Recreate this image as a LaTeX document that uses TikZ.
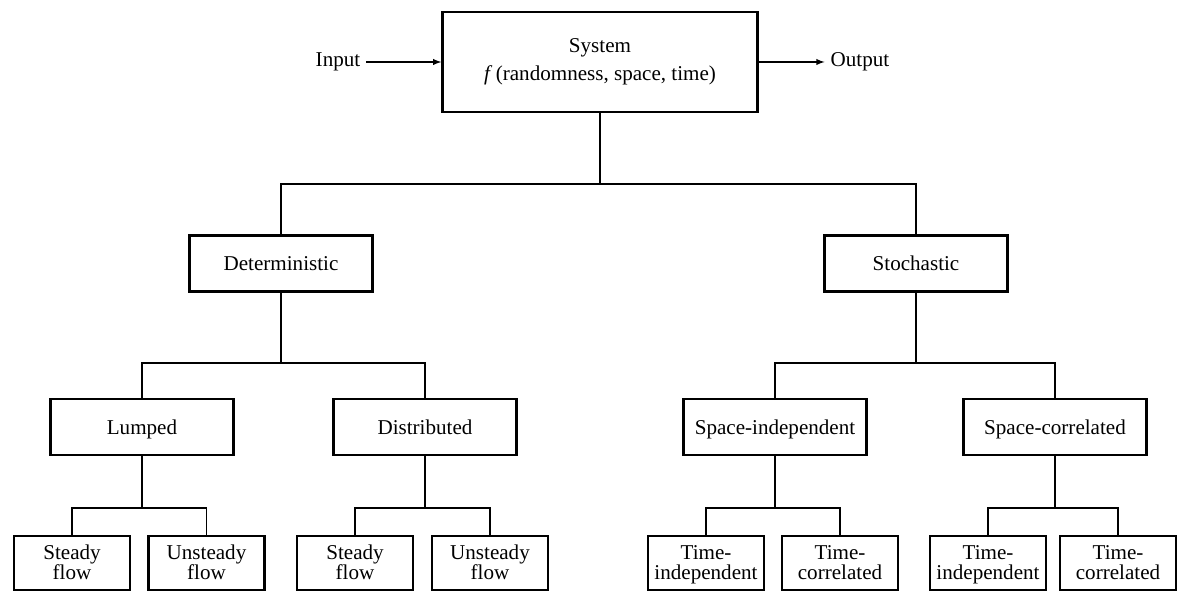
\documentclass[tikz,border=0pt]{standalone}
\usepackage{fontspec}
\setmainfont{Liberation Serif}
\begin{document}
\begin{tikzpicture}[font=\fontsize{12}{14}\selectfont,
  sysbox/.style={draw,line width=1.4pt,minimum width=6.3cm,minimum height=2cm,align=center,font=\fontsize{12}{16}\selectfont},
  box/.style={draw,line width=1.4pt,minimum width=3.66cm,minimum height=1.12cm,text height=9pt,text depth=1pt},
  leaf/.style={draw,line width=1.4pt,minimum width=2.32cm,minimum height=1.08cm,inner sep=1pt,align=center,text height=0.72cm,text depth=0.04cm,font=\fontsize{12}{11.5}\selectfont},
  link/.style={line width=0.6pt}]
\useasboundingbox (0,0) rectangle (23.58,11.84);
%\draw[step=0.5cm,gray,very thin] (0,0) grid (23.5,11.5); %background grid
\node[sysbox] (sys) at (12,10.6) {System\\\textit{f}\,(randomness, space, time)};
\node[] (in) at (6.76,10.6) {Input};
\node[] (out) at (17.2,10.6) {Output};
\draw[link,-latex] (in) -- (sys);
\draw[link,-latex] (sys) -- (out);
% level 1
\node[box] (det) at (5.62,6.57) {Deterministic};
\node[box] (sto) at (18.32,6.57) {Stochastic};
\coordinate (b1) at (12,8.16);
\draw[link] (sys.south) -- (b1);
\draw[link] (det.north) |- (b1) -| (sto.north);
% level 2
\node[box] (lum) at (2.84,3.3) {Lumped};
\node[box] (dis) at (8.5,3.3) {Distributed};
\node[box] (spi) at (15.5,3.3) {Space-independent};
\node[box] (spc) at (21.1,3.3) {Space-correlated};
\coordinate (b2) at (5.62,4.58);
\coordinate (b3) at (18.32,4.58);
\draw[link] (det.south) -- (b2);
\draw[link] (lum.north) |- (b2) -| (dis.north);
\draw[link] (sto.south) -- (b3);
\draw[link] (spi.north) |- (b3) -| (spc.north);
% level 3
\node[leaf] (st1) at (1.44,0.58) {Steady\\flow};
\node[leaf] (un1) at (4.13,0.58) {Unsteady\\flow};
\node[leaf] (st2) at (7.1,0.58) {Steady\\flow};
\node[leaf] (un2) at (9.8,0.58) {Unsteady\\flow};
\node[leaf] (ti1) at (14.12,0.58) {Time-\\independent};
\node[leaf] (tc1) at (16.8,0.58) {Time-\\correlated};
\node[leaf] (ti2) at (19.76,0.58) {Time-\\independent};
\node[leaf] (tc2) at (22.36,0.58) {Time-\\correlated};
\coordinate (b4) at (2.84,1.68);
\coordinate (b5) at (8.5,1.68);
\coordinate (b6) at (15.5,1.68);
\coordinate (b7) at (21.1,1.68);
\draw[link] (lum.south) -- (b4);
\draw[link] (st1.north) |- (b4) -| (un1.north);
\draw[link] (dis.south) -- (b5);
\draw[link] (st2.north) |- (b5) -| (un2.north);
\draw[link] (spi.south) -- (b6);
\draw[link] (ti1.north) |- (b6) -| (tc1.north);
\draw[link] (spc.south) -- (b7);
\draw[link] (ti2.north) |- (b7) -| (tc2.north);
\end{tikzpicture}
\end{document}
